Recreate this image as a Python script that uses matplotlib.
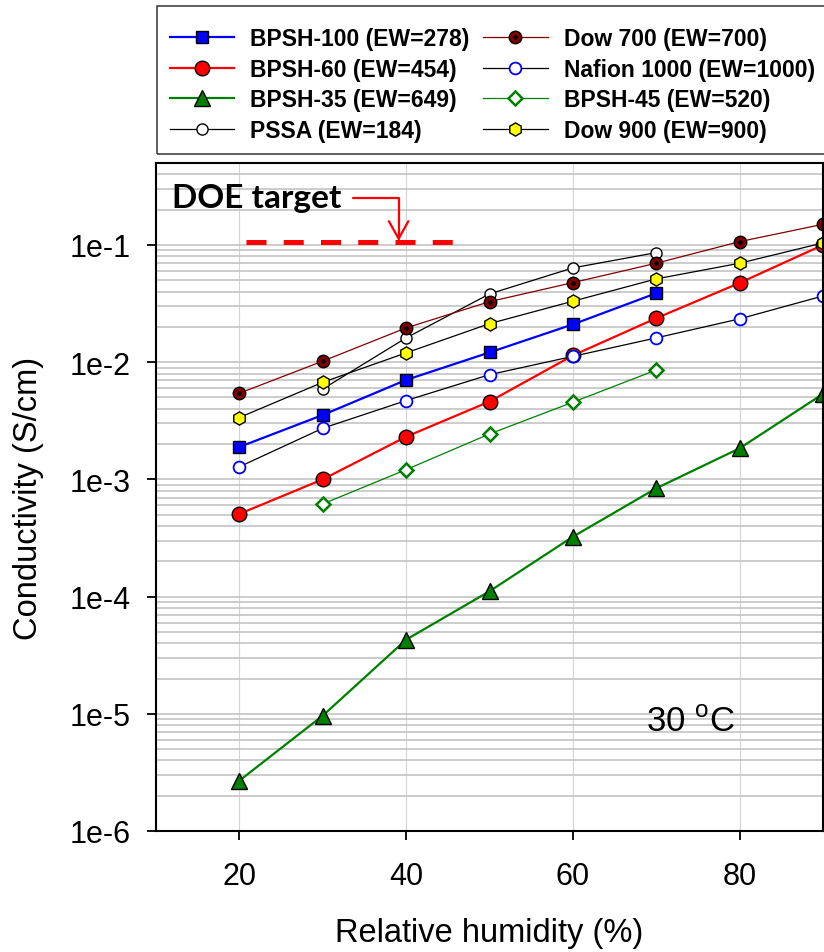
import numpy as np
import matplotlib
matplotlib.use('Agg')
import matplotlib.pyplot as plt
from matplotlib.patches import Rectangle, ArrowStyle

plt.rcParams['font.family'] = ['Liberation Sans', 'DejaVu Sans']
plt.rcParams['mathtext.fontset'] = 'custom'
plt.rcParams['mathtext.rm'] = 'Liberation Sans'

# relative humidity (%) and conductivity (S/cm)
rh = [20, 30, 40, 50, 60, 70, 80, 90]

bpsh100_rh = [20, 30, 40, 50, 60, 70]
bpsh100 = [1.89e-3, 3.54e-3, 7.05e-3, 1.21e-2, 2.10e-2, 3.87e-2]

bpsh60 = [5.07e-4, 1.0e-3, 2.31e-3, 4.61e-3, 1.14e-2, 2.37e-2, 4.74e-2, 1.0e-1]

bpsh35 = [2.69e-6, 9.64e-6, 4.29e-5, 1.11e-4, 3.24e-4, 8.39e-4, 1.84e-3, 5.36e-3]

pssa_rh = [30, 40, 50, 60, 70]
pssa = [5.9e-3, 1.61e-2, 3.82e-2, 6.37e-2, 8.6e-2]

dow700 = [5.43e-3, 1.02e-2, 1.96e-2, 3.28e-2, 4.77e-2, 6.98e-2, 1.067e-1, 1.50e-1]

nafion = [1.28e-3, 2.73e-3, 4.70e-3, 7.82e-3, 1.12e-2, 1.61e-2, 2.34e-2, 3.67e-2]

bpsh45_rh = [30, 40, 50, 60, 70]
bpsh45 = [6.17e-4, 1.21e-3, 2.44e-3, 4.55e-3, 8.57e-3]

dow900 = [3.37e-3, 6.73e-3, 1.20e-2, 2.13e-2, 3.31e-2, 5.13e-2, 6.98e-2, 1.04e-1]

doe_target = 0.105
doe_range = [20.8, 45.6]

ytick_vals = [1e-6, 1e-5, 1e-4, 1e-3, 1e-2, 1e-1]
ytick_labels = ['1e-6', '1e-5', '1e-4', '1e-3', '1e-2', '1e-1']
xtick_vals = [20, 40, 60, 80]

W, H = 824, 953
fig = plt.figure(figsize=(W / 100, H / 100), dpi=100)
ax = fig.add_axes([156 / W, 1 - 832 / H, (823 - 156) / W, (832 - 164) / H])

h1, = ax.plot(bpsh100_rh, bpsh100, '-s', color='#0000ff', lw=1.6, ms=9,
              mfc='#0000ff', mec='black', mew=1.0, label='BPSH-100 (EW=278)')
h2, = ax.plot(rh, bpsh60, '-o', color='#ff0000', lw=1.6, ms=10.5,
              mfc='#ff0000', mec='black', mew=1.0, label='BPSH-60 (EW=454)')
h3, = ax.plot(rh, bpsh35, '-^', color='#008000', lw=1.6, ms=11.5,
              mfc='#008000', mec='black', mew=1.0, label='BPSH-35 (EW=649)')
h4, = ax.plot(pssa_rh, pssa, '-o', color='black', lw=0.9, ms=8,
              mfc='white', mec='black', mew=1.0, label='PSSA (EW=184)')
h5a, = ax.plot(rh, dow700, '-o', color='#800000', lw=0.9, ms=9,
               mfc='#800000', mec='black', mew=1.0)
h5b, = ax.plot(rh, dow700, 'D', ms=2.5, mfc='black', mec='black', mew=0.5)
h6, = ax.plot(rh, nafion, '-o', color='black', lw=0.9, ms=8.5,
              mfc='white', mec='#0000ff', mew=1.3, label='Nafion 1000 (EW=1000)')
h7, = ax.plot(bpsh45_rh, bpsh45, '-D', color='#008000', lw=0.9, ms=7,
              mfc='white', mec='#008000', mew=1.8, label='BPSH-45 (EW=520)')
h8, = ax.plot(rh, dow900, '-h', color='black', lw=0.9, ms=9.5,
              mfc='#ffff00', mec='black', mew=1.0, label='Dow 900 (EW=900)')

ax.set_yscale('log')
ax.set_ylim(1e-6, 0.5)
ax.set_xlim(10, 90)
ax.set_yticks(ytick_vals, ytick_labels)
ax.set_xticks(xtick_vals)
ax.tick_params(which='major', direction='out', length=6.5, width=1.3, labelsize=22)
ax.tick_params(axis='x', pad=15)
ax.tick_params(axis='y', pad=12)
ax.tick_params(which='minor', length=0)
ax.set_axisbelow(True)
ax.grid(True, axis='y', which='both', color='#c4c4c4', lw=1.2)
ax.grid(True, axis='x', which='major', color='#d4d4d4', lw=0.8)
for s in ax.spines.values():
    s.set_linewidth(1.5)

ax.set_xlabel('Relative humidity (%)', fontsize=23.5, labelpad=19)
ax.set_ylabel('Conductivity (S/cm)', fontsize=23.5, labelpad=18)

# DOE target annotation
ax.plot(doe_range, [doe_target, doe_target], color='#ff0000', lw=3.6,
        dashes=(4, 3.45), solid_capstyle='butt', dash_capstyle='butt')
ax.text(11.9, 0.21, 'DOE target', fontsize=24, fontweight='bold',
        family=['Lato', 'DejaVu Sans'], ha='left', va='baseline')
ax.annotate('', xy=(39.1, 0.108), xytext=(33.6, 0.25),
            arrowprops=dict(arrowstyle=ArrowStyle('->', head_length=0.45, head_width=0.25),
                            connectionstyle='angle,angleA=0,angleB=90,rad=0',
                            color='#ff0000', lw=1.6, shrinkA=0, shrinkB=0,
                            mutation_scale=28))
ax.text(68.8, 7.18e-6, r'30 $^{\mathrm{o}}$C', fontsize=25, ha='left', va='baseline')

# legend in its own box above the axes
fig.patches.append(Rectangle((157.3 / W, 1 - 155 / H), 1.0, (155 - 7.3) / H,
                             transform=fig.transFigure, fill=False,
                             edgecolor='#333333', lw=1.1, clip_on=False))
fig.legend([h1, h2, h3, h4, (h5a, h5b), h6, h7, h8],
           ['BPSH-100 (EW=278)', 'BPSH-60 (EW=454)', 'BPSH-35 (EW=649)', 'PSSA (EW=184)',
            'Dow 700 (EW=700)', 'Nafion 1000 (EW=1000)', 'BPSH-45 (EW=520)', 'Dow 900 (EW=900)'],
           ncol=2, loc='upper left', bbox_to_anchor=(170 / W, 1 - 28 / H),
           frameon=False, borderpad=0, borderaxespad=0,
           prop={'weight': 'bold', 'size': 16.5},
           handlelength=2.8, handletextpad=0.7, columnspacing=0.6, labelspacing=0.33)

fig.savefig('out.png', dpi=100)
